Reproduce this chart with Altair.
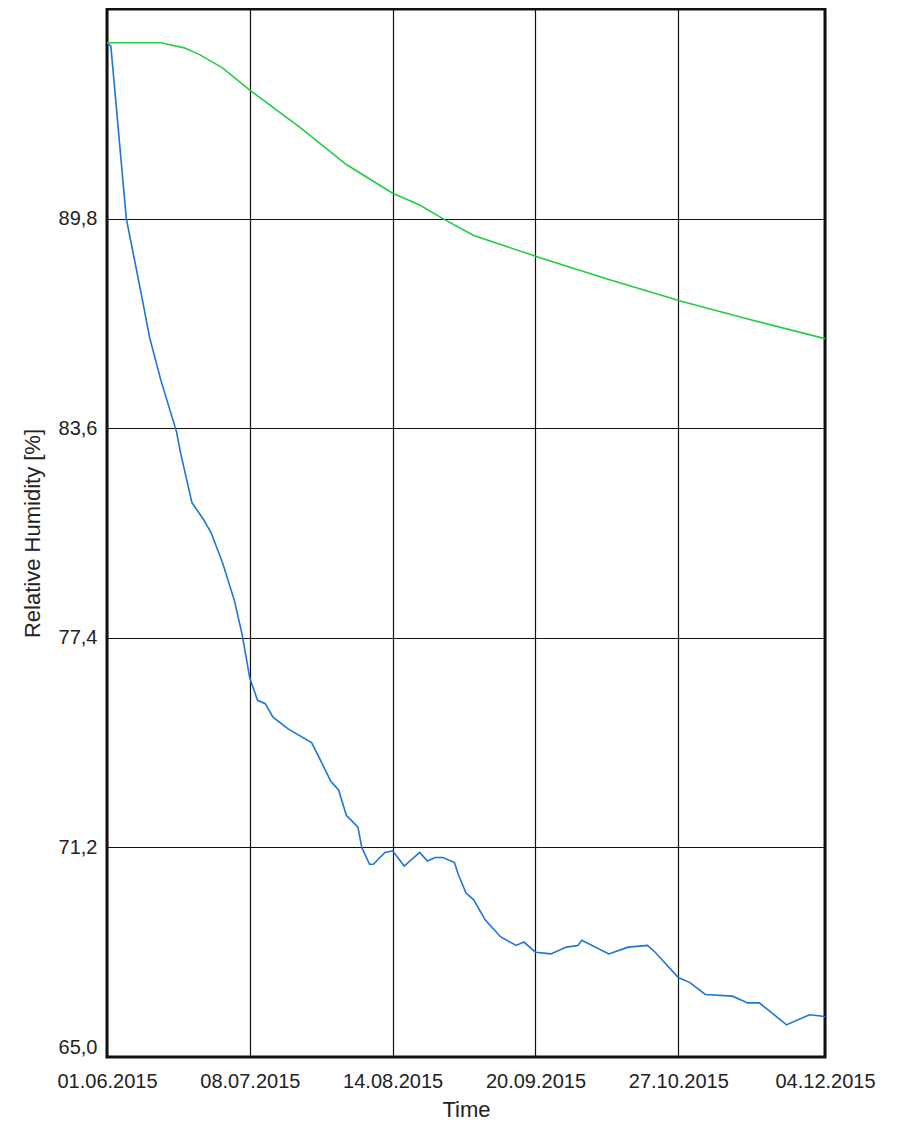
import altair as alt
import pandas as pd

# Blue series (faster drying)
blue_dates = [
    "2015-06-01", "2015-06-02", "2015-06-06", "2015-06-10", "2015-06-12", "2015-06-15",
    "2015-06-19", "2015-06-20", "2015-06-23", "2015-06-26", "2015-06-28", "2015-07-01",
    "2015-07-04", "2015-07-06", "2015-07-08", "2015-07-10", "2015-07-12", "2015-07-14",
    "2015-07-18", "2015-07-24", "2015-07-26", "2015-07-29", "2015-07-31", "2015-08-02",
    "2015-08-05", "2015-08-06", "2015-08-08", "2015-08-09", "2015-08-12", "2015-08-14",
    "2015-08-17", "2015-08-21", "2015-08-23", "2015-08-25", "2015-08-27", "2015-08-30",
    "2015-08-31", "2015-09-02", "2015-09-04", "2015-09-07", "2015-09-11", "2015-09-15",
    "2015-09-17", "2015-09-20", "2015-09-24", "2015-09-28", "2015-10-01", "2015-10-02",
    "2015-10-09", "2015-10-14", "2015-10-19", "2015-10-21", "2015-10-27", "2015-10-30",
    "2015-11-03", "2015-11-10", "2015-11-14", "2015-11-17", "2015-11-23", "2015-11-24",
    "2015-11-30", "2015-12-04",
]
blue_values = [
    95.0, 94.9, 89.8, 87.5, 86.3, 85.0,
    83.5, 82.9, 81.4, 80.9, 80.5, 79.6,
    78.5, 77.5, 76.2, 75.55, 75.45, 75.05,
    74.7, 74.3, 73.85, 73.15, 72.9, 72.15,
    71.8, 71.2, 70.7, 70.7, 71.05, 71.1,
    70.65, 71.05, 70.8, 70.9, 70.9, 70.75,
    70.4, 69.85, 69.65, 69.05, 68.55, 68.3,
    68.4, 68.1, 68.05, 68.25, 68.3, 68.45,
    68.05, 68.25, 68.3, 68.1, 67.35, 67.2,
    66.85, 66.8, 66.6, 66.6, 66.05, 65.95,
    66.25, 66.2,
]

# Green series (slower drying)
green_dates = [
    "2015-06-01", "2015-06-15", "2015-06-17", "2015-06-21", "2015-06-25", "2015-07-01",
    "2015-07-08", "2015-07-21", "2015-08-02", "2015-08-14", "2015-08-21", "2015-08-27",
    "2015-09-04", "2015-09-21", "2015-10-09", "2015-10-28", "2015-11-15", "2015-12-04",
]
green_values = [
    95.0, 95.0, 94.95, 94.85, 94.65, 94.25,
    93.6, 92.5, 91.4, 90.55, 90.2, 89.8,
    89.3, 88.65, 88.0, 87.35, 86.8, 86.25,
]

series_names = ["Blue", "Green"]
series_colors = ["#1c75d8", "#22cc44"]

x_tick_dates = [(2015, 6, 1), (2015, 7, 8), (2015, 8, 14), (2015, 9, 20), (2015, 10, 27), (2015, 12, 4)]
y_ticks = [65.0, 71.2, 77.4, 83.6, 89.8]
y_domain = [65.0, 96.0]

df = pd.concat([
    pd.DataFrame({"date": blue_dates, "rh": blue_values, "series": series_names[0]}),
    pd.DataFrame({"date": green_dates, "rh": green_values, "series": series_names[1]}),
])

def dt(t):
    return alt.DateTime(year=t[0], month=t[1], date=t[2], utc=True)

FONT = "Liberation Sans"

chart = alt.Chart(df).mark_line(strokeWidth=1.6, interpolate="linear", clip=True).encode(
    x=alt.X(
        "date:T",
        scale=alt.Scale(type="utc", domain=[dt(x_tick_dates[0]), dt(x_tick_dates[-1])], nice=False),
        axis=alt.Axis(
            values=[dt(t) for t in x_tick_dates],
            labelExpr="utcFormat(datum.value, '%d.%m.%Y')",
            title="Time",
            grid=True,
            ticks=False,
            domain=False,
            labelPadding=14,
            titlePadding=8,
            labelFlush=False,
        ),
    ),
    y=alt.Y(
        "rh:Q",
        scale=alt.Scale(domain=y_domain, nice=False, zero=False),
        axis=alt.Axis(
            values=y_ticks,
            labelExpr="replace(format(datum.value, '.1f'), '.', ',')",
            title="Relative Humidity [%]",
            grid=True,
            ticks=False,
            domain=False,
            labelPadding=10,
            titlePadding=14,
            labelFlush=True,
        ),
    ),
    color=alt.Color(
        "series:N",
        scale=alt.Scale(domain=series_names, range=series_colors),
        legend=None,
    ),
).properties(
    width=718,
    height=1048,
    autosize="none",
    padding={"left": 99, "top": 1, "right": 66, "bottom": 66},
).configure_view(
    stroke="#111111",
    strokeWidth=3,
).configure_axis(
    labelFont=FONT,
    titleFont=FONT,
    labelFontSize=20,
    titleFontSize=22,
    titleFontWeight="normal",
    labelColor="#222222",
    titleColor="#222222",
    gridColor="#111111",
    gridWidth=1.2,
    gridOpacity=1,
)

chart.save("out.html", embed_options={"renderer": "svg", "actions": False})
